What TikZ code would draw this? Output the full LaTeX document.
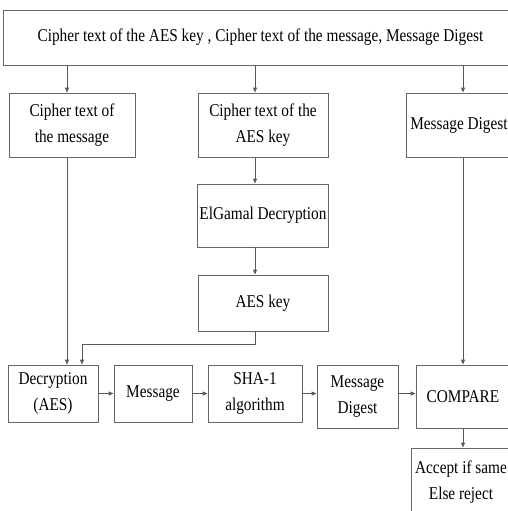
\documentclass[tikz,border=0pt]{standalone}
\usepackage{fontspec}
\setmainfont{Liberation Serif}[FakeStretch=0.85]
\usetikzlibrary{arrows.meta,positioning,calc}

\begin{document}
\begin{tikzpicture}[
  x=1pt,y=-1pt,
  every node/.style={font=\fontsize{18}{26}\selectfont,text=black},
  procbox/.style={draw=black!60,line width=0.9pt,align=center,inner sep=2pt},
  flow/.style={-{Triangle[length=5pt,width=4pt]},draw=black!65,line width=0.9pt},
]
  \useasboundingbox (0,0) rectangle (508,511);
  \clip (0,0) rectangle (508,511);

  % Columns of the vertical connectors
  \coordinate (lcol) at (67,0);
  \coordinate (mcol) at (255,0);
  \coordinate (rcol) at (463,0);
  \coordinate (kcol) at (82,344);

  % Received data
  \node[procbox,minimum width=515,minimum height=55] (inp) at (260.5,37.5)
    {Cipher text of the AES key , Cipher text of the message, Message Digest};

  % Split parts
  \node[procbox,minimum width=126,minimum height=64] (cmsg) at (72,125)
    {Cipher text of\\the message};
  \node[procbox,minimum width=130,minimum height=64] (ckey) at (263,125)
    {Cipher text of the\\AES key};
  \node[procbox,minimum width=106,minimum height=64] (dig) at (459,125)
    {Message Digest};

  % Key recovery
  \node[procbox,minimum width=130,minimum height=63] (elg) at (263,215.5)
    {ElGamal Decryption};
  \node[procbox,minimum width=130,minimum height=56] (aes) at (263,303)
    {AES key};

  % Bottom chain
  \node[procbox,minimum width=90,minimum height=57] (dec) at (53,393.5)
    {Decryption\\(AES)};
  \node[procbox,minimum width=78,minimum height=57] (msg) at (153,393.5)
    {Message};
  \node[procbox,minimum width=94,minimum height=57] (sha) at (255,393.5)
    {SHA-1\\algorithm};
  \node[procbox,minimum width=81,minimum height=63] (md) at (357.5,396.5)
    {Message\\Digest};
  \node[procbox,minimum width=94,minimum height=63] (cmp) at (463,396.5)
    {COMPARE};
  \node[procbox,minimum width=100,minimum height=68] (acc) at (461,482)
    {Accept if same\\Else reject};

  % Arrows
  \draw[flow] (inp.south -| lcol) -- (cmsg.north -| lcol);
  \draw[flow] (inp.south -| mcol) -- (ckey.north -| mcol);
  \draw[flow] (inp.south -| rcol) -- (dig.north -| rcol);
  \draw[flow] (ckey.south -| mcol) -- (elg.north -| mcol);
  \draw[flow] (elg.south -| mcol) -- (aes.north -| mcol);
  \draw[flow] (cmsg.south -| lcol) -- (dec.north -| lcol);
  \draw[flow] (aes.south -| mcol) |- (kcol) -- (dec.north -| kcol);
  \draw[flow] (dig.south -| rcol) -- (cmp.north -| rcol);
  \draw[flow] (dec.east) -- (msg.west);
  \draw[flow] (msg.east) -- (sha.west);
  \draw[flow] (sha.east) -- (sha.east -| md.west);
  \draw[flow] (sha.east -| md.east) -- (sha.east -| cmp.west);
  \draw[flow] (cmp.south -| rcol) -- (acc.north -| rcol);
\end{tikzpicture}
\end{document}
